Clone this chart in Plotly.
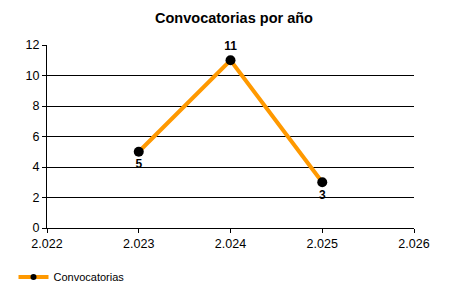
import plotly.graph_objects as go

years = [2023, 2024, 2025]
values = [5, 11, 3]
label_pos = ["bottom center", "top center", "bottom center"]
series_name = "Convocatorias"
title = "Convocatorias por año"

fig = go.Figure()
fig.add_trace(go.Scatter(
    x=years, y=values, name=series_name,
    mode="lines+markers+text",
    line=dict(color="#FF9900", width=4),
    marker=dict(color="black", size=10),
    text=[str(v) for v in values],
    textposition=label_pos,
    textfont=dict(family="Liberation Sans, Arial", size=12, color="black", weight="bold"),
    cliponaxis=False,
    showlegend=False,
))
# legend entry (smaller marker as in the reference)
fig.add_trace(go.Scatter(
    x=[None], y=[None], name=series_name, mode="lines+markers",
    line=dict(color="#FF9900", width=4), marker=dict(color="black", size=6),
    showlegend=True,
))

fig.update_layout(
    width=450, height=300,
    margin=dict(l=47, r=36, t=45, b=72, autoexpand=False),
    paper_bgcolor="white", plot_bgcolor="white",
    separators=",.",
    font=dict(family="Liberation Sans, Arial", size=12, color="black"),
    title=dict(text="<b>" + title + "</b>", x=0.52, xanchor="center", y=0.94, yanchor="middle",
               font=dict(size=14.5, color="black")),
    xaxis=dict(range=[2022, 2026], tickvals=[2022, 2023, 2024, 2025, 2026], tickformat=",d",
               showgrid=False, zeroline=False, showline=True, linecolor="black", linewidth=1,
               ticks="outside", ticklen=4, tickcolor="black", fixedrange=True,
               tickfont=dict(size=12.5)),
    yaxis=dict(range=[0, 12], dtick=2, showgrid=True, gridcolor="black", gridwidth=1,
               zeroline=False, showline=True, linecolor="black", linewidth=1,
               ticks="outside", ticklen=4, tickcolor="black", tickfont=dict(size=12.5)),
    legend=dict(xref="container", yref="container", x=0.03, y=0.077, xanchor="left", yanchor="middle",
                font=dict(size=11), itemwidth=30),
)

fig.write_html("out.html")
